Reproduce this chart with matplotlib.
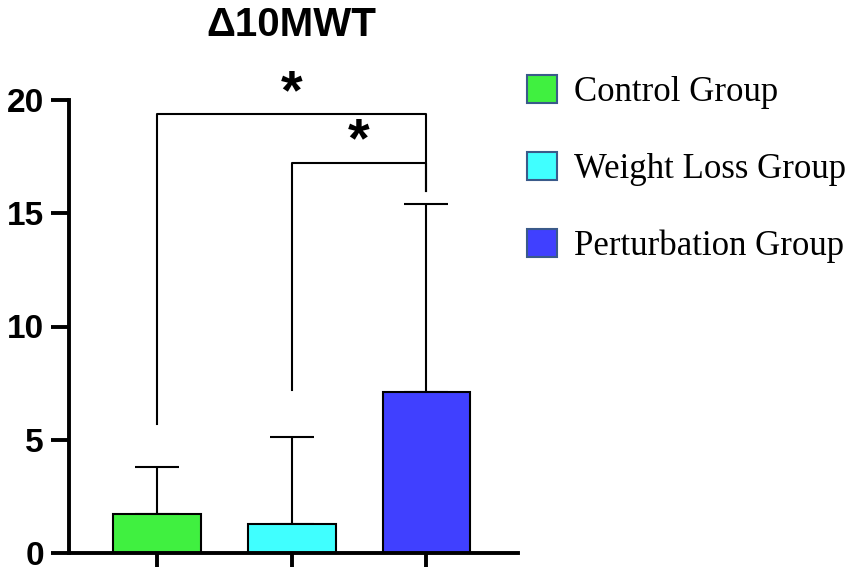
import matplotlib.pyplot as plt
from matplotlib.patches import Patch

groups = ["Control Group", "Weight Loss Group", "Perturbation Group"]
means = [1.7, 1.3, 7.1]
upper_err = [2.1, 3.8, 8.3]
colors = ["#40F040", "#40FFFF", "#4040FF"]

# significance brackets: (left bar, right bar, top, left leg end, right leg end, star x, star y)
brackets = [
    (0, 2, 19.4, 5.7, 16.0, 1.0, 20.25),
    (1, 2, 17.2, 7.2, 16.0, 1.5, 18.15),
]


def main() -> None:
    fig = plt.figure(figsize=(8.51, 5.75), dpi=100)
    ax = fig.add_axes([69 / 851, 1 - 553 / 575, 449 / 851, 453 / 575])

    x = list(range(len(groups)))
    ax.bar(x, means, width=0.65, color=colors, edgecolor="black", linewidth=1.5, zorder=2)
    ax.errorbar(x, means, yerr=[[0] * len(means), upper_err], fmt="none",
                ecolor="black", elinewidth=1.5, capsize=16, capthick=1.5, zorder=1)

    for a, b, top, ly, ry, sx, sy in brackets:
        ax.plot([a, a, b, b], [ly, top, top, ry], color="black", lw=1.5, clip_on=False)
        ax.text(sx, sy, "*", ha="center", va="center", fontsize=40,
                fontweight="bold", family="Liberation Sans", clip_on=False)

    ax.set_xlim(-0.655, 2.68)
    ax.set_ylim(0, 20)
    ax.set_yticks([0, 5, 10, 15, 20])
    ax.set_xticks(x)
    ax.set_xticklabels([])
    for s in ["top", "right"]:
        ax.spines[s].set_visible(False)
    for s in ["left", "bottom"]:
        ax.spines[s].set_linewidth(2.8)
    ax.tick_params(axis="y", length=13, width=2.8, labelsize=24, pad=5)
    ax.tick_params(axis="x", length=10, width=2.8)
    for lab in ax.get_yticklabels():
        lab.set_fontweight("bold")
        lab.set_family("Liberation Sans")

    fig.text(291 / 851, 1 - 25 / 575, "Δ10MWT", ha="center", va="center",
             fontsize=29, fontweight="bold", family="Liberation Sans")

    handles = [Patch(facecolor=c, edgecolor="#3A5A8A", linewidth=1.5) for c in colors]
    fig.legend(handles, groups, loc="upper left", bbox_to_anchor=(527 / 851, 1 - 75 / 575),
               frameon=False, prop={"family": "Liberation Serif", "size": 25},
               borderpad=0, borderaxespad=0,
               handlelength=0.87, handleheight=0.87, handletextpad=0.49, labelspacing=1.24)

    fig.savefig("out.png", dpi=100)


if __name__ == "__main__":
    main()
